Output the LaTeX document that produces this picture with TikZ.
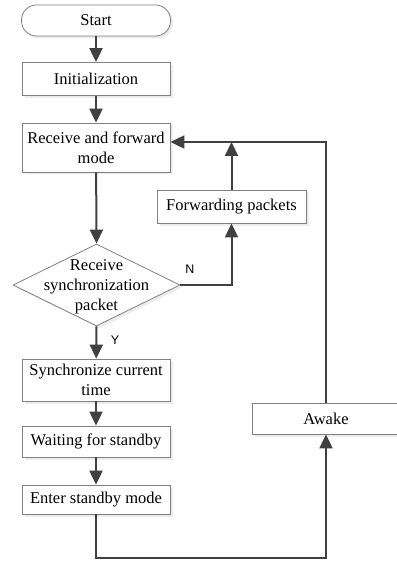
\documentclass[tikz,border=0pt]{standalone}
\usepackage{fontspec}
\setmainfont{Liberation Serif}
\newfontfamily\labfont{Liberation Sans}
\usetikzlibrary{arrows.meta,shapes.geometric,shadows}
\definecolor{lineC}{HTML}{404040}
\definecolor{boxC}{HTML}{808080}
\begin{document}
\begin{tikzpicture}[x=1pt,y=-1pt,
  font=\fontsize{16.5}{20}\selectfont,
  box/.style={draw=boxC, line width=0.8pt, fill=white, rectangle, align=center, inner sep=0pt,
    drop shadow={shadow xshift=2.5pt, shadow yshift=-2.5pt, fill=black!15}},
  dbox/.style={draw=boxC, line width=0.8pt, fill=white, diamond, inner sep=0pt,
    drop shadow={shadow xshift=2.5pt, shadow yshift=-2.5pt, fill=black!15}},
  conn/.style={draw=lineC, line width=2pt, -{Triangle[length=14pt,width=13pt]}},
  yn/.style={font=\labfont\fontsize{12.5}{14}\selectfont, inner sep=0pt}]
\useasboundingbox (0,0) rectangle (396,561);
\node[box, rounded corners=15pt, minimum width=149pt, minimum height=31pt] (start) at (96,20.5) {Start};
\node[box, minimum width=148pt, minimum height=33pt] (init) at (96,79) {Initialization};
\node[box, minimum width=148pt, minimum height=49pt] (recv) at (96,147.5) {Receive and forward\\mode};
\node[box, minimum width=149pt, minimum height=33pt] (fwd) at (231.5,206.5) {Forwarding packets};
\node[dbox, minimum width=167pt, minimum height=82pt] (dec) at (96.5,285) {};
\node[align=center, inner sep=0pt] (dect) at (96.5,287) {Receive\\synchronization\\packet};
\node[box, minimum width=148pt, minimum height=42pt] (sync) at (96,380) {Synchronize current\\time};
\node[box, minimum width=148pt, minimum height=31pt] (wait) at (96,441.5) {Waiting for standby};
\node[box, minimum width=148pt, minimum height=29pt] (enter) at (96,499.5) {Enter standby mode};
\node[box, minimum width=148pt, minimum height=31pt] (awake) at (326,418.5) {Awake};
\node[yn] (nlab) at (190,269) {N};
\node[yn] (ylab) at (115,340) {Y};
\coordinate (loopR) at (326,142);
\coordinate (botY) at (96,558);
\coordinate (fx) at (231.5,142);
% connectors
\draw[conn] (start) -- (init);
\draw[conn] (init) -- (recv);
\draw[conn] (recv) -- (dec.north);
\draw[conn] (dec.south) -- (sync);
\draw[conn] (sync) -- (wait);
\draw[conn] (wait) -- (enter);
\draw[conn] (dec.east) -| (fwd.south);
\draw[conn] (fwd.north) -- (fx);
\draw[conn] (awake.north -| loopR) -- (loopR) -- (loopR -| recv.east);
\draw[conn] (enter.south) -- (botY) -| (awake.south -| loopR);
\end{tikzpicture}
\end{document}
